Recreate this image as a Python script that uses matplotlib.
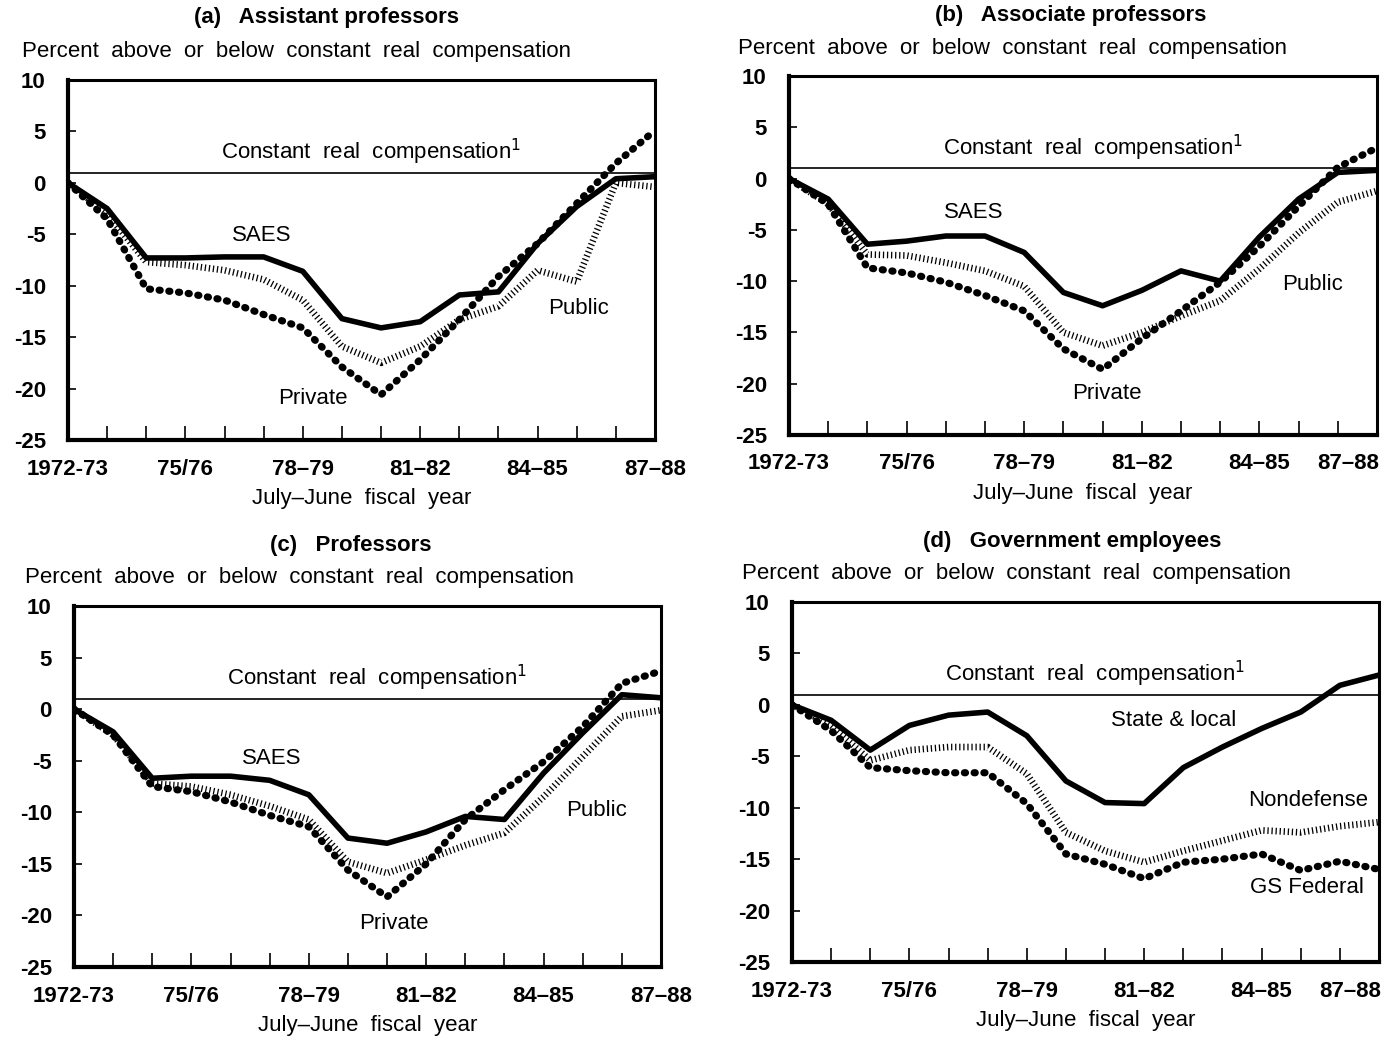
import numpy as np
import matplotlib
matplotlib.use('Agg')
import matplotlib.pyplot as plt

plt.rcParams['font.family'] = ['Liberation Sans', 'DejaVu Sans']
plt.rcParams['axes.unicode_minus'] = False

# fiscal years 1972-73 .. 1987-88
years = list(range(16))
xtick_pos = [0, 3, 6, 9, 12, 15]
xtick_labels = ['1972-73', '75/76', '78\u201379', '81\u201382', '84\u201385', '87\u201388']
yticks = [10, 5, 0, -5, -10, -15, -20, -25]
const_level = 1.0

# (a) Assistant professors
a_saes    = [0, -2.5, -7.3, -7.3, -7.2, -7.2, -8.6, -13.2, -14.1, -13.5, -10.9, -10.6, -5.9, -2.3, 0.4, 0.6]
a_private = [0, -3.5, -10.3, -10.7, -11.4, -12.8, -14.1, -17.9, -20.6, -17.2, -13.3, -9.1, -5.9, -2.0, 1.9, 5.1]
a_public  = [0, -3.0, -7.7, -8.0, -8.5, -9.4, -11.4, -15.9, -17.5, -15.9, -13.3, -12.0, -8.5, -9.6, 0.0, -0.4]

# (b) Associate professors
b_saes    = [0, -2.0, -6.4, -6.1, -5.6, -5.6, -7.2, -11.1, -12.4, -10.9, -9.0, -10.0, -5.7, -2.0, 0.6, 0.8]
b_private = [0, -2.5, -8.7, -9.2, -10.1, -11.4, -12.9, -16.6, -18.6, -15.6, -12.9, -10.1, -6.6, -2.7, 1.1, 3.0]
b_public  = [0, -2.5, -7.4, -7.5, -8.2, -9.0, -10.5, -15.0, -16.3, -15.0, -13.4, -11.9, -8.8, -5.3, -2.3, -1.2]

# (c) Professors
c_saes    = [0, -2.2, -6.7, -6.5, -6.5, -6.9, -8.3, -12.5, -13.0, -11.9, -10.4, -10.7, -6.2, -2.3, 1.4, 1.1]
c_private = [0, -2.5, -7.5, -8.0, -9.0, -10.3, -11.4, -15.6, -18.2, -15.0, -10.7, -7.8, -5.1, -1.7, 2.5, 3.7]
c_public  = [0, -2.5, -7.2, -7.5, -8.3, -9.4, -10.7, -14.8, -15.9, -14.6, -13.2, -12.0, -8.5, -4.6, -0.7, -0.1]

# (d) Government employees
d_state   = [0, -1.5, -4.4, -2.0, -1.0, -0.7, -3.0, -7.4, -9.5, -9.6, -6.1, -4.1, -2.3, -0.7, 1.9, 2.9]
d_nondef  = [0, -2.0, -5.4, -4.4, -4.1, -4.1, -6.7, -12.4, -14.2, -15.3, -14.2, -13.2, -12.2, -12.4, -11.8, -11.4]
d_gsfed   = [0, -2.5, -6.1, -6.4, -6.6, -6.6, -9.6, -14.5, -15.5, -16.9, -15.3, -15.0, -14.5, -16.1, -15.2, -16.0]

W, H = 1395, 1040
FS = 16
fig = plt.figure(figsize=(W/100, H/100), dpi=100)

# line styles: solid, big dots, fine hatched dots
solid  = dict(color='black', lw=4.0, ls='-', solid_joinstyle='round')
dotted = dict(color='black', lw=5.2, ls=(0, (0.15, 1.2)), dash_capstyle='round')
hatch  = dict(color='black', lw=4.8, ls=(0, (0.19, 0.42)), dash_capstyle='butt')

panels = [
    dict(box=(68, 80, 655, 440), title='(a)   Assistant professors', tpos=(326, 18), spos=(22, 52),
         series=[(a_public, hatch), (a_private, dotted), (a_saes, solid)],
         labels=[('SAES', 4.94, -5.07), ('Public', 13.05, -12.2), ('Private', 6.26, -21.0)],
         last_right=False),
    dict(box=(789, 76, 1377, 435), title='(b)   Associate professors', tpos=(1071, 15), spos=(738, 48),
         series=[(b_public, hatch), (b_private, dotted), (b_saes, solid)],
         labels=[('SAES', 4.72, -3.3), ('Public', 13.35, -10.3), ('Private', 8.1, -21.0)],
         last_right=True),
    dict(box=(74, 606, 661, 967), title='(c)   Professors', tpos=(351, 545), spos=(25, 578),
         series=[(c_public, hatch), (c_private, dotted), (c_saes, solid)],
         labels=[('SAES', 5.04, -4.76), ('Public', 13.35, -9.8), ('Private', 8.17, -20.8)],
         last_right=False),
    dict(box=(792, 602, 1379, 962), title='(d)   Government employees', tpos=(1072, 542), spos=(742, 573),
         series=[(d_nondef, hatch), (d_gsfed, dotted), (d_state, solid)],
         labels=[('State & local', 9.75, -1.5), ('Nondefense', 13.2, -9.3), ('GS Federal', 13.15, -17.8)],
         last_right=True),
]

for p in panels:
    x0, y0, x1, y1 = p['box']
    ax = fig.add_axes([x0/W, 1 - y1/H, (x1 - x0)/W, (y1 - y0)/H])

    ax.axhline(const_level, color='black', lw=1.2)
    for vals, st in p['series']:
        ax.plot(years, vals, **st)

    ax.set_xlim(0, 15)
    ax.set_ylim(-25, 10)
    ax.set_xticks(years)
    ax.set_xticklabels(['' for _ in years])
    ax.set_yticks(yticks)
    ax.set_yticklabels([str(v) for v in yticks], fontsize=FS, fontweight='bold')
    ax.tick_params(axis='x', direction='in', length=10, width=1.2, pad=6)
    ax.tick_params(axis='y', direction='in', length=6, width=1.2, pad=16)
    for xp, lab in zip(xtick_pos, xtick_labels):
        ha = 'center'
        if xp == 15 and p['last_right']:
            ha = 'right'
        ax.text(xp if ha == 'center' else 15.05, -26.8, lab, ha=ha, va='top', fontsize=FS, fontweight='bold')

    for side in ['left', 'bottom']:
        ax.spines[side].set_linewidth(3.0)
    for side in ['top', 'right']:
        ax.spines[side].set_linewidth(2.2)

    ax.text(7.75, 3.0, 'Constant  real  compensation$^{1}$', ha='center', va='center', fontsize=FS)
    for txt, lx, ly in p['labels']:
        ax.text(lx, ly, txt, ha='center', va='center', fontsize=FS)
    ax.text(7.5, -29.7, 'July\u2013June  fiscal  year', ha='center', va='top', fontsize=FS)

    fig.text(p['tpos'][0]/W, 1 - p['tpos'][1]/H, p['title'], ha='center', va='center',
             fontsize=FS, fontweight='bold')
    fig.text(p['spos'][0]/W, 1 - p['spos'][1]/H, 'Percent  above  or  below  constant  real  compensation',
             ha='left', va='center', fontsize=FS)

fig.savefig('out.png', dpi=100)
